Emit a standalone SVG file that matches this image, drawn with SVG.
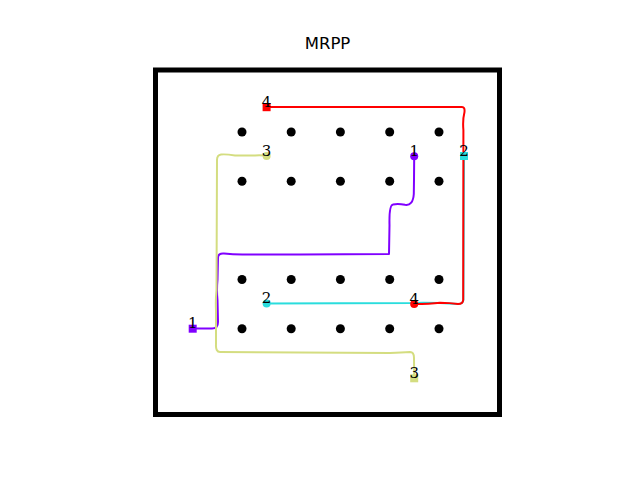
<svg xmlns="http://www.w3.org/2000/svg" width="640" height="480" viewBox="0 0 640 480">
<style>
.dot{fill:#000}
.path{fill:none;stroke-width:2;stroke-linejoin:round;stroke-linecap:round}
.lbl{font-family:"DejaVu Serif","Liberation Serif",serif;font-size:15px;text-anchor:middle;fill:#000}
.title{font-family:"DejaVu Sans","Liberation Sans",sans-serif;font-size:16.5px;text-anchor:middle;fill:#000}
</style>
<rect width="640" height="480" fill="#fff"/>
<text class="title" x="327.5" y="49">MRPP</text>
<rect id="frame" x="155.5" y="70" width="344" height="344.5" fill="none" stroke="#000" stroke-width="5"/>
<g id="grid">
<circle class="dot" cx="242" cy="132" r="4.5"/><circle class="dot" cx="291.2" cy="132" r="4.5"/><circle class="dot" cx="340.4" cy="132" r="4.5"/><circle class="dot" cx="389.7" cy="132" r="4.5"/><circle class="dot" cx="439" cy="132" r="4.5"/>
<circle class="dot" cx="242" cy="181.3" r="4.5"/><circle class="dot" cx="291.2" cy="181.3" r="4.5"/><circle class="dot" cx="340.4" cy="181.3" r="4.5"/><circle class="dot" cx="389.7" cy="181.3" r="4.5"/><circle class="dot" cx="439" cy="181.3" r="4.5"/>
<circle class="dot" cx="242" cy="279.5" r="4.5"/><circle class="dot" cx="291.2" cy="279.5" r="4.5"/><circle class="dot" cx="340.4" cy="279.5" r="4.5"/><circle class="dot" cx="389.7" cy="279.5" r="4.5"/><circle class="dot" cx="439" cy="279.5" r="4.5"/>
<circle class="dot" cx="242" cy="328.8" r="4.5"/><circle class="dot" cx="291.2" cy="328.8" r="4.5"/><circle class="dot" cx="340.4" cy="328.8" r="4.5"/><circle class="dot" cx="389.7" cy="328.8" r="4.5"/><circle class="dot" cx="439" cy="328.8" r="4.5"/>
</g>
<g id="connectors">
<path class="path" stroke="#8000ff" d="M192.7,328.5 L212,328.5 Q218,328.5 218,322 L217.5,300 Q216.5,290 217.5,280 L218,258 Q218,253 224,253.5 C232,254.5 238,254.8 248,254.5 L300,254.5 L389,254 L389.5,225 Q389,205 393,204.5 Q398,203.5 405,204.8 Q413,206 413.8,194 L414,180 L414.2,156.3"/>
<path class="path" stroke="#2adddd" d="M464,156 L463.4,300 Q463,304 458,304 L440,303 Q420,302.5 414,303 L266.6,303.5"/>
<path class="path" stroke="#d4dd80" d="M266.6,156 Q262,155 255,155.5 L235,155.5 Q226,154 221,154.5 Q217,155 217,160 L216.5,290 Q215.5,300 216,310 L216,344 Q215.5,352 220,352 L300,352.5 L390,353 Q402,352.5 410,352 Q414,352 414,358 L414.2,378.3"/>
<path class="path" stroke="#ff0000" d="M266.6,107 L462,107 Q465,107 464.5,112 Q462.5,120 463.4,130 L463.2,300 Q463,304 458,304 Q450,302.8 440,302.7 Q430,304 414.2,304"/>
</g>
<g id="agent1">
<rect x="188.7" y="324.7" width="8" height="8" fill="#8000ff"/>
<circle cx="414.2" cy="156.3" r="4" fill="#8000ff"/>
<text class="lbl" x="192.7" y="328">1</text>
<text class="lbl" x="414.2" y="156">1</text>
</g>
<g id="agent2">
<rect x="460" y="152" width="8" height="8" fill="#2adddd"/>
<circle cx="266.6" cy="303.5" r="4" fill="#2adddd"/>
<text class="lbl" x="464" y="156">2</text>
<text class="lbl" x="266.6" y="303">2</text>
</g>
<g id="agent3">
<rect x="410.2" y="374.3" width="8" height="8" fill="#d4dd80"/>
<circle cx="266.6" cy="156" r="4" fill="#d4dd80"/>
<text class="lbl" x="414.2" y="378">3</text>
<text class="lbl" x="266.6" y="156">3</text>
</g>
<g id="agent4">
<rect x="262.6" y="103.2" width="8" height="8" fill="#ff0000"/>
<circle cx="414.2" cy="304" r="4" fill="#ff0000"/>
<text class="lbl" x="266.6" y="107">4</text>
<text class="lbl" x="414.2" y="303.5">4</text>
</g>
</svg>
